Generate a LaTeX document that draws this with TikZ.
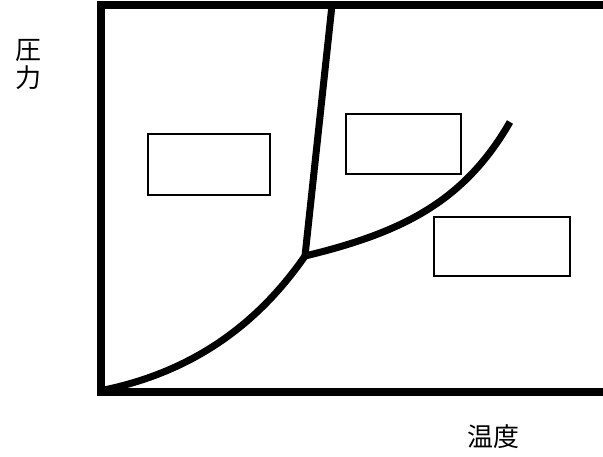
\documentclass[tikz,border=0pt]{standalone}
\usepackage{fontspec}
\newfontfamily\cjk{Noto Sans CJK JP}
\begin{document}
\begin{tikzpicture}[x=1pt,y=-1pt,
  frame/.style={line width=8.5pt},
  curve/.style={line width=7pt},
  box/.style={draw, line width=1.6pt, inner sep=0pt},
  lbl/.style={font=\cjk\fontsize{26}{28}\selectfont, inner sep=0pt, align=center}]
\useasboundingbox (0,0) rectangle (603,456);
\begin{scope}
\clip (0,0) rectangle (603,456);
\draw[frame] (101,5) rectangle (640,392);
\end{scope}
\coordinate (o) at (104,390);
\coordinate (t) at (305,256);
\coordinate (top) at (332,5);
\coordinate (g) at (510,122);
\draw[curve] (o) .. controls (200,370) and (262,318) .. (t);
\draw[curve] (t) -- (top);
\draw[curve] (t) .. controls (405,232) and (465,200) .. (g);
\node[box, minimum width=122pt, minimum height=61pt] (b1) at (209,164.5) {};
\node[box, minimum width=115pt, minimum height=60pt] (b2) at (403.5,144) {};
\node[box, minimum width=136pt, minimum height=59pt] (b3) at (502,246.5) {};
\node[lbl] (p) at (29,65) {圧\\力};
\node[lbl] (tt) at (493,437) {温度};
\end{tikzpicture}
\end{document}
